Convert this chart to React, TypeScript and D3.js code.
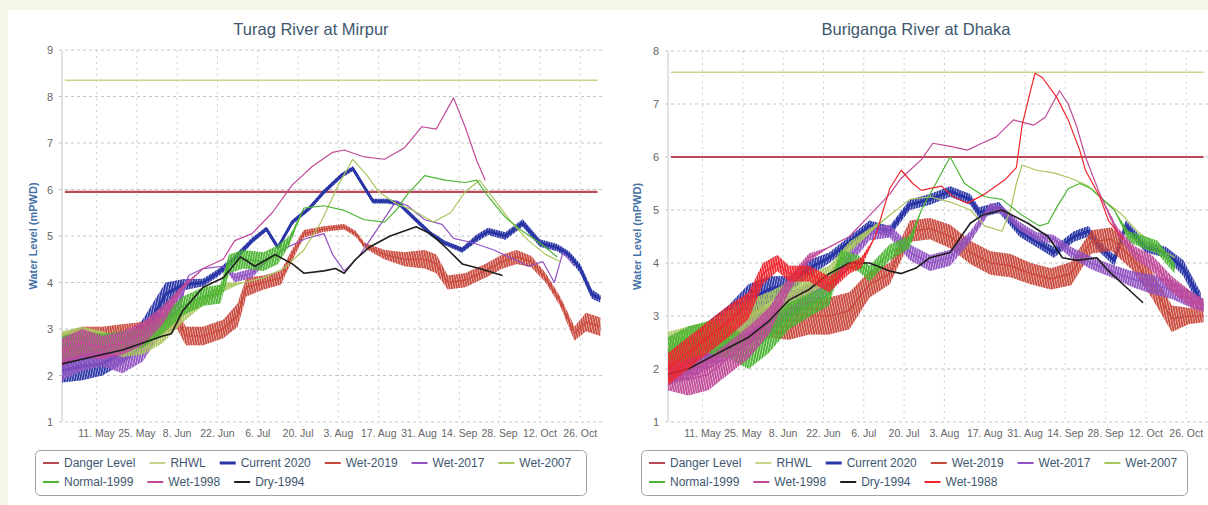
import React from "react";
import * as d3 from "d3";

// Each point: [days after 29 Apr, water level (mPWD), half tidal range]
type Pt = [number, number, number];

const START = Date.UTC(2020, 3, 29);
const DAY_SPAN = 188.6;
const TICK_DATES = ["2020-05-11", "2020-05-25", "2020-06-08", "2020-06-22", "2020-07-06", "2020-07-20", "2020-08-03", "2020-08-17", "2020-08-31", "2020-09-14", "2020-09-28", "2020-10-12", "2020-10-26"];
const TICK_LABELS = ["11. May", "25. May", "8. Jun", "22. Jun", "6. Jul", "20. Jul", "3. Aug", "17. Aug", "31. Aug", "14. Sep", "28. Sep", "12. Oct", "26. Oct"];
const LEVEL_SPAN = [1, 186];

const SERIES_NAMES = ["Danger Level", "RHWL", "Current 2020", "Wet-2019", "Wet-2017", "Wet-2007", "Normal-1999", "Wet-1998", "Dry-1994", "Wet-1988"];
const SERIES_COLORS = ["#b94a58", "#c9d48a", "#2a36a6", "#c9483c", "#9052c2", "#a9c65e", "#4cb534", "#c04a98", "#1e1e1e", "#f0262e"];

// ---------- Turag River at Mirpur ----------
const TURAG_DANGER = 5.95;
const TURAG_RHWL = 8.35;
const turag2020: Pt[] = [[0,2.1,.25],[7,2.2,.3],[14,2.25,.25],[21,2.5,.25],[28,2.9,.3],[32,3.3,.3],[36,3.75,.25],[42,3.95,.12],[49,4.0,.08],[54,4.2,.08],[59,4.45,.08],[66,4.9,.06],[71,5.15,.05],[75,4.75,.05],[80,5.3,.05],[86,5.6,.05],[91,5.95,.05],[97,6.3,.05],[101,6.45,.05],[105,6.05,.05],[108,5.75,.05],[113,5.75,.05],[117,5.7,.05],[122,5.4,.05],[128,5.05,.05],[133,4.85,.05],[139,4.7,.06],[144,4.95,.08],[148,5.1,.08],[154,5.0,.08],[160,5.28,.08],[166,4.85,.08],[172,4.75,.08],[176,4.6,.08],[180,4.3,.1],[184,3.75,.1],[187,3.65,.08]];
const turag2019: Pt[] = [[0,2.6,.3],[7,2.75,.3],[14,2.8,.25],[21,2.85,.25],[28,2.9,.25],[35,3.1,.2],[40,3.2,.2],[43,2.85,.2],[49,2.85,.2],[56,3.0,.2],[61,3.3,.25],[64,3.9,.2],[70,4.0,.15],[76,4.1,.15],[80,4.6,.12],[84,5.05,.08],[91,5.15,.06],[98,5.2,.06],[102,5.05,.06],[105,4.8,.06],[112,4.6,.1],[119,4.5,.15],[126,4.5,.2],[130,4.4,.2],[134,4.0,.15],[140,4.05,.15],[147,4.25,.15],[153,4.45,.15],[158,4.55,.15],[163,4.45,.12],[168,4.1,.1],[173,3.6,.1],[178,2.9,.15],[182,3.15,.2],[187,3.05,.2]];
const turag2017: Pt[] = [[0,2.2,.3],[7,2.4,.3],[14,2.5,.3],[21,2.3,.25],[28,2.6,.3],[35,3.2,.25],[41,3.6,.2],[44,4.15,0],[49,4.3,0],[56,4.35,0],[60,4.1,.1],[66,4.2,.1],[72,4.5,0],[78,4.75,0],[85,4.95,0],[91,5.05,0],[94,4.6,0],[98,4.25,0],[103,4.55,0],[109,5.1,0],[116,5.75,0],[120,5.65,0],[126,5.35,0],[132,5.25,0],[136,4.95,0],[143,4.85,0],[150,4.7,0],[157,4.5,0],[162,4.35,0],[167,4.45,0],[171,4.0,0],[174,4.65,0],[178,4.35,0]];
const turag2007: Pt[] = [[0,2.7,.25],[7,2.8,.25],[14,2.75,.2],[21,2.6,.2],[28,2.65,.2],[35,2.9,.2],[42,3.3,.15],[49,3.6,.1],[56,3.9,.1],[63,4.0,0],[70,4.1,0],[77,4.3,0],[84,4.7,0],[90,5.3,0],[96,6.1,0],[101,6.65,0],[106,6.3,0],[110,5.95,0],[116,5.7,0],[122,5.55,0],[129,5.3,0],[135,5.5,0],[140,5.95,0],[145,6.2,0],[150,5.8,0],[156,5.3,0],[162,4.9,0],[168,4.6,0],[173,4.45,0]];
const turag1999: Pt[] = [[0,2.6,.25],[7,2.7,.25],[14,2.7,.2],[21,2.75,.2],[28,2.8,.2],[35,3.1,.2],[42,3.5,.2],[49,3.7,.2],[55,3.75,.2],[58,4.4,.2],[63,4.5,.2],[70,4.45,.2],[75,4.6,.2],[79,4.9,.1],[84,5.6,0],[91,5.65,0],[98,5.55,0],[105,5.35,0],[112,5.3,0],[116,5.55,0],[120,5.9,0],[126,6.3,0],[133,6.2,0],[140,6.15,0],[144,6.2,0],[148,5.85,0],[154,5.4,0],[160,5.1,0],[166,4.85,0],[172,4.55,0]];
const turag1998: Pt[] = [[0,2.5,.3],[7,2.7,.3],[14,2.6,.25],[21,2.7,.25],[28,2.9,.25],[35,3.3,.2],[42,3.9,.05],[49,4.3,0],[56,4.5,0],[60,4.9,0],[66,5.05,0],[73,5.5,0],[80,6.1,0],[87,6.5,0],[94,6.8,0],[98,6.85,0],[105,6.7,0],[112,6.65,0],[119,6.9,0],[125,7.35,0],[130,7.3,0],[136,7.97,0],[140,7.35,0],[144,6.63,0],[147,6.2,0]];
const turag1994: Pt[] = [[0,2.25,0],[7,2.35,0],[14,2.45,0],[21,2.55,0],[28,2.7,0],[35,2.85,0],[38,2.9,0],[42,3.4,0],[49,3.9,0],[56,4.1,0],[62,4.55,0],[67,4.35,0],[74,4.6,0],[80,4.4,0],[84,4.2,0],[91,4.25,0],[95,4.3,0],[98,4.2,0],[102,4.5,0],[107,4.77,0],[114,5.0,0],[123,5.2,0],[128,5.05,0],[133,4.77,0],[139,4.4,0],[145,4.3,0],[153,4.15,0]];

// ---------- Buriganga River at Dhaka ----------
const BURI_DANGER = 6.0;
const BURI_RHWL = 7.6;
const buri2020: Pt[] = [[0,2.1,.3],[7,2.3,.3],[14,2.6,.3],[21,2.9,.3],[28,3.3,.3],[35,3.5,.25],[42,3.6,.15],[49,3.9,.15],[56,4.1,.1],[63,4.4,.1],[70,4.7,.1],[77,4.6,.1],[84,5.1,.1],[91,5.2,.1],[98,5.35,.1],[105,5.2,.1],[108,4.95,.1],[115,5.05,.1],[122,4.6,.1],[128,4.4,.1],[134,4.2,.1],[141,4.5,.1],[146,4.6,.1],[150,4.3,.1],[155,4.05,.1],[159,4.7,.1],[166,4.3,.1],[173,4.2,.1],[179,3.9,.15],[185,3.3,.15]];
const buri2019: Pt[] = [[0,2.0,.3],[7,2.2,.3],[14,2.4,.3],[21,2.6,.3],[28,2.8,.3],[35,2.9,.3],[42,2.9,.35],[49,3.0,.35],[56,3.0,.35],[63,3.1,.35],[70,3.6,.25],[77,3.8,.2],[84,4.6,.2],[91,4.65,.2],[98,4.5,.22],[105,4.2,.22],[112,4.0,.22],[119,3.95,.22],[126,3.8,.2],[133,3.7,.2],[140,3.8,.22],[147,4.4,.22],[154,4.45,.22],[161,4.1,.22],[168,3.6,.25],[175,2.95,.25],[181,3.0,.15],[186,3.0,.12]];
const buri2017: Pt[] = [[0,2.0,.3],[7,2.1,.3],[14,2.3,.3],[21,2.5,.3],[28,2.7,.25],[35,2.9,.25],[42,3.2,.25],[49,3.4,.22],[56,3.6,.2],[63,4.1,.15],[70,4.55,.12],[77,4.6,.12],[84,4.2,.15],[91,4.0,.15],[98,4.1,.15],[105,4.5,.1],[112,5.05,.08],[116,5.0,.08],[122,4.7,.08],[128,4.5,.08],[134,4.45,.08],[140,4.2,.1],[147,4.0,.12],[154,3.85,.12],[161,3.7,.15],[168,3.6,.18],[175,3.5,.18],[182,3.3,.15],[186,3.2,.12]];
const buri2007: Pt[] = [[0,2.4,.3],[7,2.5,.3],[14,2.6,.3],[21,2.8,.3],[28,3.0,.3],[35,3.2,.25],[42,3.4,.25],[49,3.6,.2],[56,3.8,.15],[63,4.3,.1],[70,4.6,.05],[77,4.9,0],[84,5.2,0],[91,5.25,0],[98,5.15,0],[105,5.0,0],[110,4.7,0],[116,4.6,0],[119,5.0,0],[121,5.5,0],[123,5.85,0],[128,5.75,0],[134,5.7,0],[140,5.6,0],[146,5.45,0],[152,5.15,0],[157,4.95,0],[163,4.6,0],[170,4.3,0],[176,4.1,0]];
const buri1999: Pt[] = [[0,2.3,.3],[7,2.5,.3],[14,2.6,.3],[21,2.5,.3],[28,2.3,.3],[35,2.6,.3],[42,3.0,.25],[49,3.2,.22],[56,3.4,.2],[60,4.1,.15],[66,4.0,.15],[70,3.8,.15],[77,4.2,.15],[84,4.4,.12],[88,5.0,0],[94,5.6,0],[98,6.0,0],[103,5.5,0],[110,5.25,0],[116,5.2,0],[123,4.9,0],[129,4.7,0],[132,4.75,0],[135,5.05,0],[139,5.4,0],[143,5.5,0],[147,5.4,0],[155,5.0,0],[160,4.5,.1],[165,4.4,.12],[170,4.3,.12],[176,3.9,.1]];
const buri1998: Pt[] = [[0,1.9,.3],[7,1.8,.3],[14,1.9,.3],[21,2.2,.3],[28,2.5,.3],[35,2.9,.25],[42,3.6,.15],[49,4.1,.08],[56,4.3,0],[63,4.5,0],[70,4.9,0],[77,5.3,0],[81,5.6,0],[88,5.95,0],[92,6.26,0],[98,6.2,0],[104,6.13,0],[109,6.26,0],[114,6.38,0],[120,6.7,0],[127,6.6,0],[131,6.75,0],[136,7.25,0],[139,7.0,0],[142,6.57,0],[145,6.0,0],[150,5.3,0],[156,4.6,.08],[162,4.2,.12],[168,4.0,.15],[175,3.6,.15],[182,3.3,.15],[186,3.2,.12]];
const buri1994: Pt[] = [[0,1.9,0],[7,2.0,0],[14,2.2,0],[21,2.4,0],[28,2.6,0],[35,2.9,0],[42,3.3,0],[49,3.5,0],[56,3.8,0],[63,4.0,0],[70,4.0,0],[77,3.85,0],[81,3.8,0],[86,3.9,0],[91,4.1,0],[98,4.2,0],[105,4.75,0],[109,4.9,0],[116,5.0,0],[125,4.75,0],[132,4.5,0],[137,4.1,0],[142,4.05,0],[149,4.1,0],[153,3.85,0],[160,3.5,0],[165,3.25,0]];
const buri1988: Pt[] = [[0,2.0,.3],[7,2.3,.3],[14,2.6,.3],[21,2.9,.3],[28,3.2,.25],[33,3.8,.2],[38,4.0,.15],[42,3.8,.15],[49,3.8,.15],[56,3.6,.15],[63,3.9,.1],[67,4.0,.1],[72,4.5,0],[77,5.4,0],[81,5.75,0],[85,5.5,0],[88,5.37,0],[95,5.45,0],[99,5.25,0],[104,5.13,0],[110,5.3,0],[117,5.57,0],[121,5.8,0],[123,6.6,0],[126,7.27,0],[127.5,7.58,0],[130,7.5,0],[135,7.13,0],[139,6.7,0],[143,6.13,0],[145,5.75,0],[150,5.25,0],[153,4.8,0],[158,4.45,0]];

const FONT = '"Liberation Sans", Arial, sans-serif';

type Cfg = {
  id: string; title: string; titleX: number; x0: number; x1: number; yTop: number; yBot: number;
  yMax: number; yTitleX: number; legendX: number; legendY: number; legendW: number;
  danger: number; rhwl: number; data: Pt[][];
};

const levelLine = (v: number): Pt[] => [[LEVEL_SPAN[0], v, 0], [LEVEL_SPAN[1], v, 0]];
const dayToDate = (d: number) => new Date(START + d * 86400000);

let measureCtx: CanvasRenderingContext2D | null = null;
function textWidth(s: string, font: string) {
  if (!measureCtx) measureCtx = document.createElement("canvas").getContext("2d");
  if (!measureCtx) return s.length * 6.5;
  measureCtx.font = font;
  return measureCtx.measureText(s).width;
}

function Chart({ cfg }: { cfg: Cfg }) {
  const x = d3.scaleUtc().domain([dayToDate(0), dayToDate(DAY_SPAN)]).range([cfg.x0, cfg.x1]);
  const y = d3.scaleLinear().domain([1, cfg.yMax]).range([cfg.yBot, cfg.yTop]);
  const line = d3.line<Pt>().x(d => x(dayToDate(d[0]))).y(d => y(d[1])).curve(d3.curveLinear);
  const area = d3.area<Pt>().x(d => x(dayToDate(d[0]))).y0(d => y(d[1] - d[2])).y1(d => y(d[1] + d[2])).curve(d3.curveLinear);
  const allSeries = [levelLine(cfg.danger), levelLine(cfg.rhwl), ...cfg.data];
  const names = SERIES_NAMES.slice(0, allSeries.length);
  const widthOf = (i: number) => (i === 0 ? 2.2 : i === 1 ? 1.6 : i === 2 ? 3 : i === 8 ? 1.6 : 1.2);
  const yTicks = d3.range(1, cfg.yMax + 1);
  const tickDates = TICK_DATES.map(s => new Date(s + "T00:00:00Z"));

  const legendFont = `12px ${FONT}`;
  const items: { name: string; color: string; w: number; tx: number; row: number }[] = [];
  let cx = cfg.legendX + 8, row = 0;
  names.forEach((n, i) => {
    const tw = textWidth(n, legendFont);
    if (cx + 21 + tw > cfg.legendX + cfg.legendW - 6) { row++; cx = cfg.legendX + 8; }
    items.push({ name: n, color: SERIES_COLORS[i], w: i === 2 ? 3 : 2, tx: cx + 21, row });
    cx += 21 + tw + 14;
  });

  const clipId = `clip-${cfg.id}`;
  return (
    <g>
      <defs>
        <clipPath id={clipId}>
          <rect x={cfg.x0} y={cfg.yTop - 2} width={cfg.x1 - cfg.x0} height={cfg.yBot - cfg.yTop + 4} />
        </clipPath>
        {SERIES_COLORS.map((c, i) => (
          <pattern key={`p${i}`} id={`pat-${cfg.id}-${i}`} width={2.5} height={6} patternUnits="userSpaceOnUse" patternTransform={`skewX(${i % 2 ? 12 : -12})`}>
            <rect x={0} y={0} width={1.6} height={6} fill={c} />
          </pattern>
        ))}
      </defs>
      <text x={cfg.titleX} y={35} textAnchor="middle" fontFamily={FONT} fontSize={16.5} fill="#3e576f">{cfg.title}</text>
      {yTicks.map(t => (
        <g key={`h${t}`}>
          <line x1={cfg.x0 - 3} x2={cfg.x1} y1={y(t)} y2={y(t)} stroke="#c4c4c4" strokeDasharray="3,3" />
          <text x={cfg.x0 - 9} y={y(t) + 4} textAnchor="end" fontFamily={FONT} fontSize={11} fill="#666">{t}</text>
        </g>
      ))}
      {tickDates.map((d, i) => (
        <g key={`v${i}`}>
          <line x1={x(d)} x2={x(d)} y1={cfg.yTop} y2={cfg.yBot} stroke="#d0d0d0" strokeDasharray="2,4" />
          <text x={x(d)} y={437} textAnchor="middle" fontFamily={FONT} fontSize={10.5} fill="#666">{TICK_LABELS[i]}</text>
        </g>
      ))}
      <line x1={cfg.x0} x2={cfg.x0} y1={cfg.yTop} y2={cfg.yBot} stroke="#c8c8c8" />
      <text transform={`translate(${cfg.yTitleX},${(cfg.yTop + cfg.yBot) / 2}) rotate(-90)`} textAnchor="middle" fontFamily={FONT} fontSize={11} fontWeight="bold" fill="#4572a7">Water Level (mPWD)</text>
      <g clipPath={`url(#${clipId})`}>
        {allSeries.map((s, i) => (
          <g key={`s${i}`}>
            {s.some(p => p[2] > 0) && (
              <>
                <path d={area(s) || ""} fill={SERIES_COLORS[i]} fillOpacity={0.42} stroke="none" />
                <path d={area(s) || ""} fill={`url(#pat-${cfg.id}-${i})`} stroke="none" />
              </>
            )}
            <path d={line(s) || ""} fill="none" stroke={SERIES_COLORS[i]} strokeWidth={widthOf(i)} strokeLinejoin="round" />
          </g>
        ))}
      </g>
      <rect x={cfg.legendX + 0.5} y={cfg.legendY + 0.5} width={cfg.legendW} height={45} rx={5} fill="#fff" stroke="#a0a0a0" />
      {items.map((it, i) => {
        const cy = cfg.legendY + 13 + it.row * 19;
        return (
          <g key={`l${i}`}>
            <line x1={it.tx - 21} x2={it.tx - 5} y1={cy} y2={cy} stroke={it.color} strokeWidth={it.w} />
            <text x={it.tx} y={cy + 4} fontFamily={FONT} fontSize={12} fill="#3e576f">{it.name}</text>
          </g>
        );
      })}
    </g>
  );
}

const LEFT: Cfg = {
  id: "turag", title: "Turag River at Mirpur", titleX: 311, x0: 62, x1: 605, yTop: 50, yBot: 422, yMax: 9,
  yTitleX: 37, legendX: 35, legendY: 450, legendW: 551, danger: TURAG_DANGER, rhwl: TURAG_RHWL,
  data: [turag2020, turag2019, turag2017, turag2007, turag1999, turag1998, turag1994],
};
const RIGHT: Cfg = {
  id: "buri", title: "Buriganga River at Dhaka", titleX: 916, x0: 668, x1: 1211, yTop: 51, yBot: 422, yMax: 8,
  yTitleX: 641, legendX: 641, legendY: 450, legendW: 546, danger: BURI_DANGER, rhwl: BURI_RHWL,
  data: [buri2020, buri2019, buri2017, buri2007, buri1999, buri1998, buri1994, buri1988],
};

export default function App() {
  return (
    <svg width={1208} height={505} style={{ position: "absolute", left: 0, top: 0, background: "#fff" }}>
      <rect x={0} y={0} width={1208} height={505} fill="#fff" />
      <rect x={0} y={0} width={1208} height={10} fill="#f6f6ea" />
      <rect x={0} y={0} width={8} height={505} fill="#f6f6ea" />
      <Chart cfg={LEFT} />
      <Chart cfg={RIGHT} />
    </svg>
  );
}
